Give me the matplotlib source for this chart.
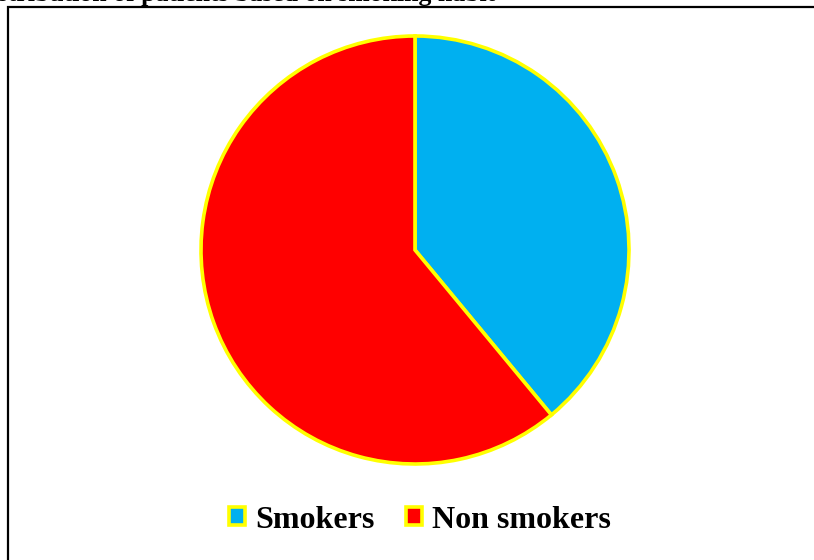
import matplotlib.pyplot as plt
from matplotlib.patches import Rectangle

labels = ['Smokers', 'Non smokers']
values = [39, 61]
colors = ['#00B0F0', '#FF0000']
title = 'Distribution of patients based on smoking habit'

W, H = 814, 560
fig = plt.figure(figsize=(W / 100, H / 100), dpi=100)
fig.patch.set_facecolor('white')

# axes in pixel units so the pie lands where it does in the original
ax = fig.add_axes([0, 0, 1, 1])

# outer frame, runs off the right and bottom edges
ax.add_patch(Rectangle((8, -20), W + 20, H - 7 + 20, fill=False,
                       edgecolor='black', linewidth=1.6, zorder=1))

wedges, _ = ax.pie(values, colors=colors, startangle=90, counterclock=False,
                   center=(415, H - 250), radius=214,
                   wedgeprops=dict(edgecolor='#FFFF00', linewidth=2.6),
                   frame=True)
ax.set_xlim(0, W)
ax.set_ylim(0, H)
ax.set_aspect('equal')
ax.axis('off')

# title, cut off at the top left like the source image
fig.text(495 / W, (H - 0.5) / H, title, ha='right', va='baseline',
         fontsize=18.5, fontweight='bold', family='Liberation Serif')

leg = ax.legend(wedges, labels, loc='center', bbox_to_anchor=(420 / W, 40 / H),
                bbox_transform=fig.transFigure, ncol=2, frameon=False,
                prop=dict(family='Liberation Serif', weight='bold', size=23),
                handlelength=0.5, handleheight=0.5, handletextpad=0.3,
                columnspacing=1.0)

fig.savefig('out.png', dpi=100)
